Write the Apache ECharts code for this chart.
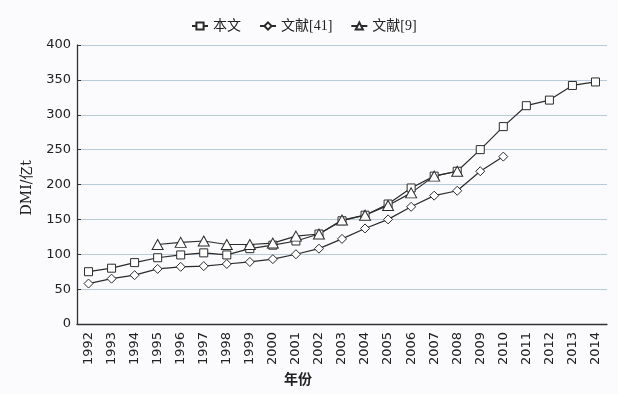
<!DOCTYPE html>
<html><head><meta charset="utf-8">
<script src="https://cdn.jsdelivr.net/npm/echarts@6/dist/echarts.min.js"></script>
<style>html,body{margin:0;padding:0;background:#fbfbfd;}#c{width:618px;height:394px;}</style>
</head><body><div id="c"></div>
<script>
const years = ['1992','1993','1994','1995','1996','1997','1998','1999','2000','2001','2002','2003','2004','2005','2006','2007','2008','2009','2010','2011','2012','2013','2014'];
const benwen = [75,80,88,95,99,102,99,108,113,119,129,148,156,172,195,212,219,250,283,313,321,342,347];
const wenxian41 = [58,65,70,79,82,83,86,89,93,100,108,122,137,150,168,184,191,219,240,null,null,null,null];
const wenxian9 = [null,null,null,114,117,119,114,114,116,126,129,149,156,170,188,212,219,null,null,null,null,null,null];
const yTicks = [0,50,100,150,200,250,300,350,400];

const lineColor = '#2b2b2b';
function mk(name, data, symbol, size){
  return {name, type:'line', data, symbol, symbolSize:size, showAllSymbol:true,
    connectNulls:false,
    lineStyle:{color:lineColor,width:1.2},
    itemStyle:{color:'#ffffff',borderColor:lineColor,borderWidth:1},
    emphasis:{disabled:true}, z: 3};
}
const chart = echarts.init(document.getElementById('c'), null, {renderer:'canvas'});
chart.setOption({
  backgroundColor:'#fbfbfd',
  animation:false,
  legend:{top:14,left:186,itemGap:18,itemWidth:16,itemHeight:9,
    textStyle:{fontFamily:'"Liberation Serif","Noto Sans CJK SC"',fontSize:14,color:'#222'},
    data:['本文','文献[41]','文献[9]']},
  grid:{left:77,right:11,top:45,bottom:70},
  xAxis:{type:'category',data:years,boundaryGap:true,
    axisLine:{lineStyle:{color:'#333',width:1.3}},
    axisTick:{inside:true,length:4,lineStyle:{color:'#333'}},
    axisLabel:{rotate:90,fontSize:13,color:'#222',fontFamily:'DejaVu Sans',margin:8,interval:0},
    splitLine:{show:false}},
  yAxis:{type:'value',min:yTicks[0],max:yTicks[yTicks.length-1],interval:50,
    axisLine:{show:true,lineStyle:{color:'#333',width:1.3}},
    axisTick:{show:true,inside:true,length:4,lineStyle:{color:'#333'}},
    axisLabel:{fontSize:13,color:'#222',fontFamily:'DejaVu Sans',margin:6},
    splitLine:{lineStyle:{color:'#b9cad8',width:1}}},
  graphic:[
    {type:'text',left:20,top:160,rotation:Math.PI/2,style:{text:'DMI/亿t',font:'14px "DejaVu Serif", "Noto Sans CJK SC"',fill:'#222'}},
    {type:'text',left:284,top:372,style:{text:'年份',font:'bold 14px "Noto Sans CJK SC"',fill:'#222'}}
  ],
  series:[
    mk('本文',benwen,'rect',8),
    mk('文献[41]',wenxian41,'diamond',9),
    mk('文献[9]',wenxian9,'path://M5,0 L10,9 L0,9 Z',[11,10])
  ]
});
</script></body></html>
